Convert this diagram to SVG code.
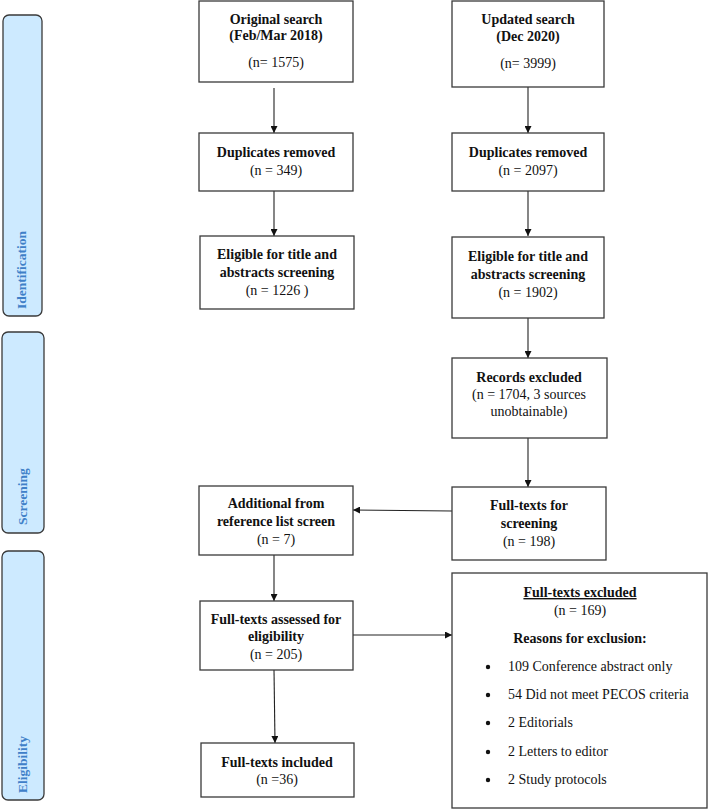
<svg xmlns="http://www.w3.org/2000/svg" width="709" height="810" viewBox="0 0 709 810">
<defs>
<marker id="ah" viewBox="0 0 10 10" refX="10" refY="5" markerWidth="7" markerHeight="7" markerUnits="userSpaceOnUse" orient="auto"><path d="M0,0 L10,5 L0,10 z" fill="#111"/></marker>
<style>
.box{fill:#fff;stroke:#3a3a3a;stroke-width:1.3}
.bar{fill:#cdeaff;stroke:#3a3a3a;stroke-width:1.3}
.bt{font-family:"Liberation Serif",serif;font-weight:bold;font-size:13.5px;fill:#3f80c8}
.h{font-family:"Liberation Serif",serif;font-weight:bold;font-size:14px;fill:#111;text-anchor:middle}
.n{font-family:"Liberation Serif",serif;font-size:14px;fill:#111;text-anchor:middle}
.l{font-family:"Liberation Serif",serif;font-size:14px;fill:#111}
.c{stroke:#222;stroke-width:1.1;fill:none;marker-end:url(#ah)}
</style>
</defs>
<rect width="709" height="810" fill="#fff"/>
<g id="phase-identification"><rect class="bar" x="3" y="15" width="39" height="301" rx="6"/><text class="bt" transform="translate(26,309) rotate(-90)">Identification</text></g>
<g id="phase-screening"><rect class="bar" x="2" y="332" width="42" height="201" rx="6"/><text class="bt" transform="translate(27,525) rotate(-90)">Screening</text></g>
<g id="phase-eligibility"><rect class="bar" x="2" y="551" width="42" height="249" rx="6"/><text class="bt" transform="translate(27,793) rotate(-90)">Eligibility</text></g>

<g id="connectors">
<line class="c" x1="274" y1="88" x2="274" y2="133"/>
<line class="c" x1="274" y1="191" x2="274" y2="236"/>
<line class="c" x1="528" y1="87" x2="528" y2="133"/>
<line class="c" x1="528" y1="191" x2="528" y2="236"/>
<line class="c" x1="528" y1="318" x2="528" y2="358"/>
<line class="c" x1="528" y1="438" x2="528" y2="487"/>
<line class="c" x1="452" y1="511" x2="353" y2="510"/>
<line class="c" x1="274" y1="555" x2="274" y2="601"/>
<line class="c" x1="353" y1="635" x2="452" y2="635"/>
<line class="c" x1="274" y1="670" x2="275" y2="743"/>
</g>

<g id="original-search"><rect class="box" x="199" y="1" width="154" height="81"/>
<text class="h" x="276" y="24">Original search</text><text class="h" x="276" y="40">(Feb/Mar 2018)</text><text class="n" x="276" y="67">(n= 1575)</text></g>
<g id="duplicates-1"><rect class="box" x="199" y="133" width="154" height="58"/>
<text class="h" x="276" y="157">Duplicates removed</text><text class="n" x="276" y="175">(n = 349)</text></g>
<g id="eligible-1"><rect class="box" x="200" y="236" width="154" height="73"/>
<text class="h" x="277" y="259">Eligible for title and</text><text class="h" x="277" y="277">abstracts screening</text><text class="n" x="277" y="295">(n = 1226 )</text></g>

<g id="updated-search"><rect class="box" x="452" y="1" width="152" height="86"/>
<text class="h" x="528" y="24">Updated search</text><text class="h" x="528" y="41">(Dec 2020)</text><text class="n" x="528" y="68">(n= 3999)</text></g>
<g id="duplicates-2"><rect class="box" x="452" y="133" width="152" height="58"/>
<text class="h" x="528" y="157">Duplicates removed</text><text class="n" x="528" y="175">(n = 2097)</text></g>
<g id="eligible-2"><rect class="box" x="452" y="237" width="152" height="81"/>
<text class="h" x="528" y="261">Eligible for title and</text><text class="h" x="528" y="279">abstracts screening</text><text class="n" x="528" y="297">(n = 1902)</text></g>
<g id="records-excluded"><rect class="box" x="452" y="358" width="155" height="80"/>
<text class="h" x="529" y="382">Records excluded</text><text class="n" x="529" y="399">(n = 1704, 3 sources</text><text class="n" x="529" y="416">unobtainable)</text></g>
<g id="fulltexts-screening"><rect class="box" x="452" y="487" width="154" height="73"/>
<text class="h" x="529" y="510">Full-texts for</text><text class="h" x="529" y="528">screening</text><text class="n" x="529" y="546">(n = 198)</text></g>

<g id="additional"><rect class="box" x="199" y="486" width="154" height="69"/>
<text class="h" x="276" y="508">Additional from</text><text class="h" x="276" y="526">reference list screen</text><text class="n" x="276" y="544">(n = 7)</text></g>
<g id="assessed"><rect class="box" x="200" y="601" width="153" height="69"/>
<text class="h" x="276" y="624">Full-texts assessed for</text><text class="h" x="276" y="641">eligibility</text><text class="n" x="276" y="659">(n = 205)</text></g>
<g id="included"><rect class="box" x="201" y="743" width="153" height="54"/>
<text class="h" x="277" y="767">Full-texts included</text><text class="n" x="277" y="784">(n =36)</text></g>

<g id="fulltexts-excluded"><rect class="box" x="452" y="573" width="255" height="235"/>
<text class="h" x="580" y="597" text-decoration="underline">Full-texts excluded</text>
<text class="n" x="580" y="615">(n = 169)</text>
<text class="h" x="580" y="643">Reasons for exclusion:</text>
<circle cx="488" cy="667" r="2.2" fill="#111"/><text class="l" x="508" y="671">109 Conference abstract only</text>
<circle cx="488" cy="695" r="2.2" fill="#111"/><text class="l" x="508" y="699">54 Did not meet PECOS criteria</text>
<circle cx="488" cy="723" r="2.2" fill="#111"/><text class="l" x="508" y="727">2 Editorials</text>
<circle cx="488" cy="752" r="2.2" fill="#111"/><text class="l" x="508" y="756">2 Letters to editor</text>
<circle cx="488" cy="780" r="2.2" fill="#111"/><text class="l" x="508" y="784">2 Study protocols</text>
</g>
</svg>
